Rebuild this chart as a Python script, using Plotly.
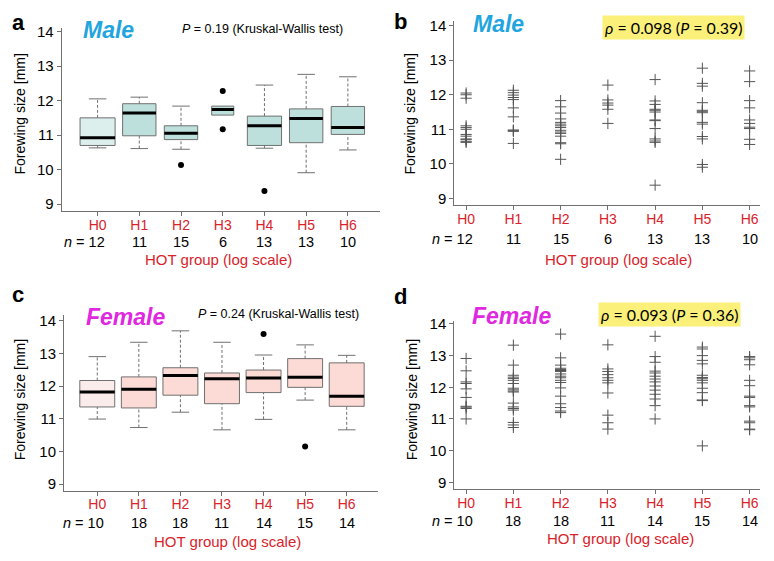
import plotly.graph_objects as go

# Groups and sample sizes
groups = ["H0", "H1", "H2", "H3", "H4", "H5", "H6"]
n_male = [12, 11, 15, 6, 13, 13, 10]
n_female = [10, 18, 18, 11, 14, 15, 14]

# Panel a: male box-plot statistics
male_low = [10.63, 10.61, 10.59, 11.58, 10.62, 9.91, 10.57]
male_q1 = [10.70, 10.98, 10.87, 11.58, 10.70, 10.78, 11.02]
male_med = [10.92, 11.64, 11.05, 11.74, 11.27, 11.48, 11.22]
male_q3 = [11.50, 11.91, 11.27, 11.84, 11.55, 11.76, 11.83]
male_high = [12.05, 12.10, 11.84, 11.84, 12.45, 12.76, 12.69]
male_out_group = ["H2", "H3", "H3", "H4"]
male_out_val = [10.13, 12.28, 11.17, 9.38]

# Panel c: female box-plot statistics
female_low = [10.99, 10.73, 11.20, 10.66, 10.98, 11.57, 10.66]
female_q1 = [11.36, 11.33, 11.72, 11.46, 11.80, 11.96, 11.38]
female_med = [11.82, 11.90, 12.32, 12.22, 12.25, 12.27, 11.69]
female_q3 = [12.17, 12.28, 12.56, 12.40, 12.49, 12.84, 12.71]
female_high = [12.90, 13.34, 13.69, 13.34, 12.95, 13.26, 12.94]
female_out_group = ["H4", "H5"]
female_out_val = [13.59, 10.15]

# Panel b: individual male values
male_pts = {
    "H0": [10.62, 10.65, 10.70, 10.72, 10.80, 10.85, 11.00, 11.05, 11.10, 11.90, 12.00, 12.05],
    "H1": [10.59, 10.94, 10.96, 10.98, 11.36, 11.62, 11.86, 11.92, 11.99, 12.06, 12.13],
    "H2": [10.13, 10.58, 10.61, 10.80, 10.88, 10.92, 10.97, 11.05, 11.10, 11.15, 11.20, 11.30, 11.47, 11.65, 11.83],
    "H3": [11.17, 11.58, 11.70, 11.76, 11.85, 12.28],
    "H4": [9.38, 10.62, 10.66, 10.72, 11.02, 11.25, 11.27, 11.50, 11.55, 11.58, 11.72, 11.82, 12.44],
    "H5": [9.90, 9.98, 10.72, 10.79, 11.15, 11.20, 11.48, 11.52, 11.55, 11.77, 12.25, 12.33, 12.77],
    "H6": [10.56, 10.71, 11.02, 11.06, 11.17, 11.27, 11.62, 11.83, 12.38, 12.69],
}

# Panel d: individual female values
female_pts = {
    "H0": [11.00, 11.33, 11.37, 11.40, 11.68, 11.95, 12.12, 12.17, 12.52, 12.91],
    "H1": [10.73, 10.81, 10.89, 11.28, 11.33, 11.38, 11.50, 11.85, 11.88, 11.92, 11.97, 12.12,
           12.22, 12.28, 12.32, 12.38, 12.70, 13.33],
    "H2": [11.20, 11.25, 11.36, 11.48, 11.72, 11.98, 12.15, 12.22, 12.30, 12.35, 12.42, 12.50,
           12.53, 12.56, 12.60, 12.70, 12.93, 13.68],
    "H3": [10.68, 10.88, 11.12, 11.82, 12.14, 12.22, 12.30, 12.40, 12.50, 12.58, 13.34],
    "H4": [11.00, 11.42, 11.63, 11.78, 11.91, 12.04, 12.17, 12.26, 12.35, 12.45, 12.51, 12.79, 12.97, 13.61],
    "H5": [10.15, 11.58, 11.60, 11.83, 11.97, 12.14, 12.22, 12.27, 12.31, 12.38, 12.74, 12.85, 13.00, 13.21, 13.27],
    "H6": [10.66, 10.68, 10.88, 10.93, 11.38, 11.42, 11.68, 11.72, 12.05, 12.22, 12.71, 12.87, 12.93, 12.97],
}

y_ticks = [9, 10, 11, 12, 13, 14]

RED = "#d9232a"
GREY = "#707070"
FONT = "Liberation Sans, Arial, sans-serif"

idx = list(range(len(groups)))
pos = {g: i for i, g in enumerate(groups)}

fig = go.Figure()


def add_boxes(xa, ya, low, q1, med, q3, high, out_g, out_v, fills, widths):
    # boxes
    fig.add_trace(go.Bar(
        x=idx, y=[b - a for a, b in zip(q1, q3)], base=q1, width=widths,
        marker=dict(color=fills, line=dict(color=GREY, width=1)),
        xaxis=xa, yaxis=ya, hoverinfo="skip"))
    # dashed whiskers
    wx, wy = [], []
    for i in idx:
        if low[i] < q1[i]:
            wx += [i, i, None]
            wy += [low[i], q1[i], None]
        if high[i] > q3[i]:
            wx += [i, i, None]
            wy += [q3[i], high[i], None]
    fig.add_trace(go.Scatter(
        x=wx, y=wy, mode="lines", line=dict(color=GREY, width=1, dash="3px,2px"),
        xaxis=xa, yaxis=ya, hoverinfo="skip"))
    # whisker caps
    cx, cy = [], []
    for i in idx:
        if low[i] < q1[i]:
            cx.append(i); cy.append(low[i])
        if high[i] > q3[i]:
            cx.append(i); cy.append(high[i])
    fig.add_trace(go.Scatter(
        x=cx, y=cy, mode="markers", marker=dict(size=1, color="rgba(0,0,0,0)"),
        error_x=dict(type="constant", value=0.21, thickness=1, width=0, color=GREY),
        xaxis=xa, yaxis=ya, hoverinfo="skip"))
    # medians
    fig.add_trace(go.Scatter(
        x=idx, y=med, mode="markers", marker=dict(size=1, color="rgba(0,0,0,0)"),
        error_x=dict(type="data", array=[w / 2 for w in widths], thickness=3, width=0, color="black"),
        xaxis=xa, yaxis=ya, hoverinfo="skip"))
    # outliers
    fig.add_trace(go.Scatter(
        x=[pos[g] for g in out_g], y=out_v, mode="markers",
        marker=dict(size=6, color="black"), xaxis=xa, yaxis=ya))


def add_points(xa, ya, pts):
    xs, ys = [], []
    for g in groups:
        xs += [pos[g]] * len(pts[g])
        ys += pts[g]
    fig.add_trace(go.Scatter(
        x=xs, y=ys, mode="markers",
        marker=dict(symbol="cross-thin", size=8, line=dict(width=1, color="#555555")),
        xaxis=xa, yaxis=ya))


teal = ["#dcefed"] + ["#bde0dc"] * 6
pink = ["#fbecec"] + ["#fcdad5"] * 6
w_a = [0.84, 0.80, 0.80, 0.53, 0.82, 0.80, 0.80]
w_c = [0.84] * 7

add_boxes("x", "y", male_low, male_q1, male_med, male_q3, male_high,
          male_out_group, male_out_val, teal, w_a)
add_points("x2", "y2", male_pts)
add_boxes("x3", "y3", female_low, female_q1, female_med, female_q3, female_high,
          female_out_group, female_out_val, pink, w_c)
add_points("x4", "y4", female_pts)


def xax(domain, rng, anchor):
    return dict(domain=domain, range=rng, anchor=anchor, tickvals=idx, ticktext=groups,
                showline=True, linecolor=GREY, linewidth=1, ticks="outside", ticklen=4,
                tickcolor=GREY, showgrid=False, zeroline=False, ticklabelstandoff=-3,
                tickfont=dict(family=FONT, size=14, color=RED))


def yax(domain, rng, anchor):
    return dict(domain=domain, range=rng, anchor=anchor, tickvals=y_ticks,
                showline=True, linecolor=GREY, linewidth=1, ticks="outside", ticklen=4,
                tickcolor=GREY, showgrid=False, zeroline=False,
                tickfont=dict(family=FONT, size=15, color="black"))


# page body adds an 8px margin, so the figure is drawn 8px in from the window corner
OFF = 8
W, H = 774 - 2 * OFF, 561 - 2 * OFF


def py(v):
    return 1 - (v - OFF) / H


def px(v):
    return (v - OFF) / W


annotations = []


def note(text, x, y, size=14, color="black", xref="paper", xanchor="center", **kw):
    annotations.append(dict(text=text, x=x, y=y, xref=xref, yref="paper", xanchor=xanchor,
                            yanchor="middle", showarrow=False,
                            font=dict(family=kw.pop("family", FONT), size=size, color=color), **kw))


panels = [
    ("a", (10, 17), "Male", (108, 24), "x", 239, (218, 257), 20, 110, n_male),
    ("b", (392, 16), "Male", (498, 18), "x2", 236, (618, 257), 410, 110, n_male),
    ("c", (10, 293), "Female", (125, 316), "x3", 525, (227, 543), 20, 400, n_female),
    ("d", (392, 295), "Female", (511, 315), "x4", 523, (620, 540), 412, 400, n_female),
]

for letter, lp, sex, sp, xr, ny, tp, ytx, yty, ns in panels:
    note("<b>%s</b>" % letter, px(lp[0]), py(lp[1]), size=22, xanchor="left")
    note("<b><i>%s</i></b>" % sex, px(sp[0]), py(sp[1]), size=23,
         color="#22a5de" if sex == "Male" else "#e028e0")
    for i, n in enumerate(ns):
        if i == 0:
            note("<i>n</i> = %d" % n, i, py(ny), size=14.5, xref=xr, xanchor="right", xshift=9)
        else:
            note(str(n), i, py(ny), size=14.5, xref=xr)
    note("HOT group (log scale)", px(tp[0]), py(tp[1]), size=15, color=RED)
    note("Forewing size [mm]", px(ytx), py(yty), textangle=-90)

note("<i>P</i> = 0.19 (Kruskal-Wallis test)", px(262), py(23), size=12.5)
note("<i>P</i> = 0.24 (Kruskal-Wallis test)", px(278), py(312), size=12.5)
note("<i>ρ</i> = 0.098 (<i>P</i> = 0.39)", px(673), py(22), size=16, family="Lato, sans-serif",
     bgcolor="#fbf07a", borderpad=2)
note("<i>ρ</i> = 0.093 (<i>P</i> = 0.36)", px(669), py(313), size=16, family="Lato, sans-serif",
     bgcolor="#fbf07a", borderpad=2)

fig.update_layout(
    width=W, height=H, margin=dict(l=0, r=0, t=0, b=0),
    paper_bgcolor="white", plot_bgcolor="white", showlegend=False,
    xaxis=xax([px(61.7), px(380)], [-0.86, 6.77], "y"),
    yaxis=yax([py(208.3), py(22.7)], [8.79, 14.09], "x"),
    xaxis2=xax([px(454.3), px(760)], [-0.25, 6.22], "y2"),
    yaxis2=yax([py(201.7), py(15)], [8.81, 14.14], "x2"),
    xaxis3=xax([px(64), px(378.3)], [-0.80, 6.76], "y3"),
    yaxis3=yax([py(491.7), py(313.3)], [8.80, 14.18], "x3"),
    xaxis4=xax([px(454.3), px(760)], [-0.25, 6.22], "y4"),
    yaxis4=yax([py(490), py(320)], [8.79, 14.08], "x4"),
    annotations=annotations,
)

fig.write_html("out.html")
